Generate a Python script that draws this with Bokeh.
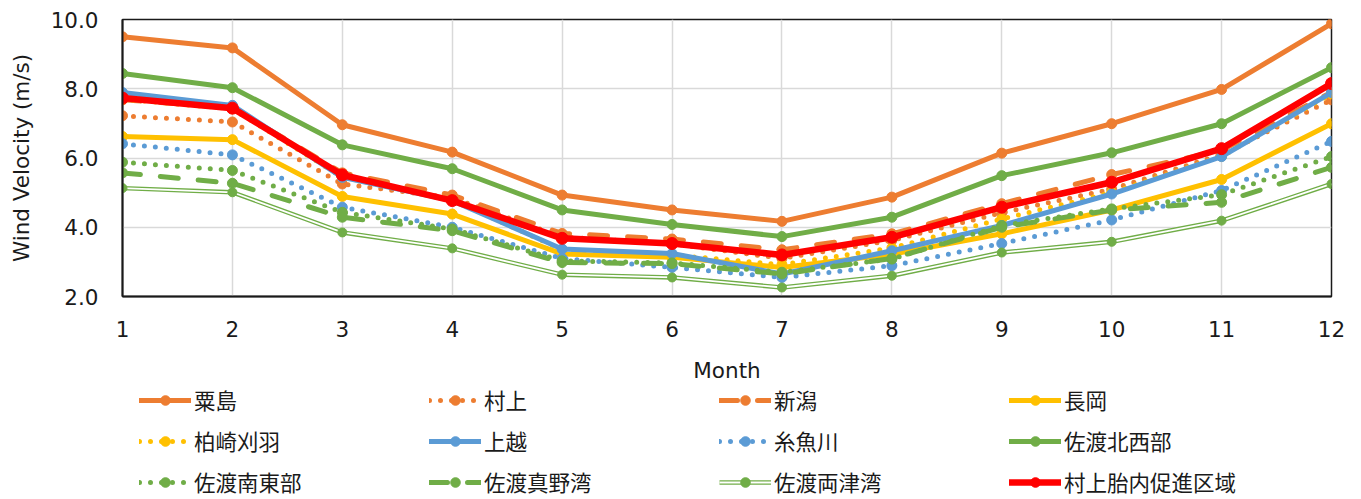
from bokeh.plotting import figure
from bokeh.layouts import column
from bokeh.models import (ColumnDataSource, Legend, LegendItem, FixedTicker,
                          NumeralTickFormatter, Range1d)
from bokeh.embed import file_html
from bokeh.resources import INLINE

months = [1, 2, 3, 4, 5, 6, 7, 8, 9, 10, 11, 12]

awashima = [9.50, 9.18, 6.96, 6.17, 4.93, 4.50, 4.17, 4.87, 6.14, 6.99, 7.98, 9.88]
murakami = [7.22, 7.04, 5.25, 4.85, 3.72, 3.52, 3.10, 3.62, 4.42, 5.10, 6.10, 7.68]
niigata = [7.68, 7.45, 5.57, 4.93, 3.82, 3.66, 3.35, 3.81, 4.68, 5.52, 6.22, 7.90]
nagaoka = [6.62, 6.53, 4.89, 4.38, 3.23, 3.13, 2.84, 3.22, 3.81, 4.50, 5.38, 6.99]
kashiwazaki = [7.70, 7.42, 5.45, 4.80, 3.35, 3.20, 2.92, 3.40, 4.24, 5.00, 6.05, 7.85]
joetsu = [7.89, 7.52, 5.44, 4.77, 3.37, 3.24, 2.65, 3.32, 4.05, 4.96, 6.04, 7.89]
itoigawa = [6.41, 6.09, 4.58, 4.00, 3.10, 2.84, 2.55, 2.89, 3.53, 4.21, 5.06, 6.48]
sado_nw = [8.44, 8.03, 6.38, 5.69, 4.50, 4.08, 3.73, 4.29, 5.49, 6.15, 6.99, 8.61]
sado_se = [5.88, 5.64, 4.43, 3.95, 3.03, 2.97, 2.70, 3.08, 4.05, 4.53, 4.94, 6.04]
sado_mano = [5.57, 5.27, 4.29, 3.90, 2.98, 2.95, 2.65, 3.10, 4.00, 4.50, 4.72, 5.73]
sado_ryotsu = [5.13, 5.01, 3.85, 3.39, 2.63, 2.55, 2.26, 2.60, 3.27, 3.58, 4.19, 5.25]
murakami_tainai = [7.73, 7.44, 5.51, 4.77, 3.68, 3.53, 3.20, 3.71, 4.58, 5.30, 6.27, 8.15]

ORANGE = "#ED7D31"
YELLOW = "#FFC000"
BLUE = "#5B9BD5"
GREEN = "#70AD47"
RED = "#FF0000"

DOT = "0 11"
DASH = "18 20"

# name, values, colour, dash, line width, marker size, double line
series = [
    ("粟島", awashima, ORANGE, "solid", 5, 10, False),
    ("村上", murakami, ORANGE, DOT, 5, 10, False),
    ("新潟", niigata, ORANGE, DASH, 5, 10, False),
    ("長岡", nagaoka, YELLOW, "solid", 5, 10, False),
    ("柏崎刈羽", kashiwazaki, YELLOW, DOT, 5, 10, False),
    ("上越", joetsu, BLUE, "solid", 5, 10, False),
    ("糸魚川", itoigawa, BLUE, DOT, 5, 10, False),
    ("佐渡北西部", sado_nw, GREEN, "solid", 5, 10, False),
    ("佐渡南東部", sado_se, GREEN, DOT, 5, 10, False),
    ("佐渡真野湾", sado_mano, GREEN, DASH, 5, 10, False),
    ("佐渡両津湾", sado_ryotsu, GREEN, "solid", 4.5, 9, True),
    ("村上胎内促進区域", murakami_tainai, RED, "solid", 6.5, 12, False),
]

TICK_FONT = "DejaVu Sans"
TEXT_COLOR = "#1a1a1a"

# ---- main chart -----------------------------------------------------------
p = figure(width=1361, height=385, output_backend="svg", toolbar_location=None,
           x_range=Range1d(1, 12), y_range=Range1d(2, 10),
           min_border_left=122, min_border_right=30, min_border_top=19,
           min_border_bottom=89)

p.outline_line_color = TEXT_COLOR
p.outline_line_width = 1.5
p.background_fill_color = "white"
p.border_fill_color = "white"

p.xgrid.ticker = FixedTicker(ticks=months)
p.ygrid.ticker = FixedTicker(ticks=[2, 4, 6, 8, 10])
for g in (p.xgrid, p.ygrid):
    g.grid_line_color = "#d9d9d9"
    g.grid_line_width = 1.5

p.xaxis.ticker = FixedTicker(ticks=months)
p.yaxis.ticker = FixedTicker(ticks=[2, 4, 6, 8, 10])
p.yaxis.formatter = NumeralTickFormatter(format="0.0")
p.xaxis.axis_label = "Month"
p.yaxis.axis_label = "Wind Velocity (m/s)"
for ax in (p.xaxis, p.yaxis):
    ax.axis_line_color = TEXT_COLOR
    ax.axis_line_width = 2
    ax.major_tick_line_color = None
    ax.minor_tick_line_color = None
    ax.major_tick_out = 0
    ax.major_tick_in = 0
    ax.major_label_text_font = TICK_FONT
    ax.major_label_text_font_size = "21.5px"
    ax.major_label_text_color = TEXT_COLOR
    ax.axis_label_text_font = TICK_FONT
    ax.axis_label_text_font_size = "21.5px"
    ax.axis_label_text_font_style = "normal"
    ax.axis_label_text_color = TEXT_COLOR
p.xaxis.major_label_standoff = 24
p.xaxis.axis_label_standoff = 18
p.yaxis.major_label_standoff = 24
p.yaxis.axis_label_standoff = 14


def add_series(fig, xs, ys, color, dash, lw, ms, double):
    src = ColumnDataSource(dict(x=xs, y=ys))
    rs = []
    if double:
        rs.append(fig.line("x", "y", source=src, line_color=color, line_width=lw,
                           line_join="round"))
        rs.append(fig.line("x", "y", source=src, line_color="white",
                           line_width=1.8, line_join="round"))
    else:
        rs.append(fig.line("x", "y", source=src, line_color=color, line_width=lw,
                           line_dash=dash, line_cap="round", line_join="round"))
    rs.append(fig.scatter("x", "y", source=src, size=ms, fill_color=color,
                          line_color=color, marker="circle"))
    return rs


for name, vals, color, dash, lw, ms, double in series:
    add_series(p, months, vals, color, dash, lw, ms, double)

# ---- legend strip underneath ---------------------------------------------
# The same series are attached here (kept outside the visible range) so the
# legend can sit in its own strip below the axis title.
lg = figure(width=1361, height=114, output_backend="svg", toolbar_location=None,
            x_range=Range1d(-2, -1), y_range=Range1d(-2, -1),
            x_axis_location=None, y_axis_location=None, min_border=0)
lg.outline_line_color = None
lg.xgrid.visible = False
lg.ygrid.visible = False

items = []
for name, vals, color, dash, lw, ms, double in series:
    rs = add_series(lg, months, vals, color, dash, lw, ms, double)
    items.append(LegendItem(label=name, renderers=rs))

legend = Legend(items=items, ncols=4, orientation="horizontal",
                location=(17, 2),
                glyph_width=52, glyph_height=24, label_height=20,
                label_width=225, label_standoff=3, spacing=10,
                padding=0, margin=0,
                label_text_font="Noto Sans CJK JP", label_text_font_size="21.5px",
                label_text_color=TEXT_COLOR,
                background_fill_alpha=0, border_line_color=None)
lg.add_layout(legend, "center")

layout = column(p, lg, spacing=0)
open("out.html", "w").write(file_html(layout, INLINE))
